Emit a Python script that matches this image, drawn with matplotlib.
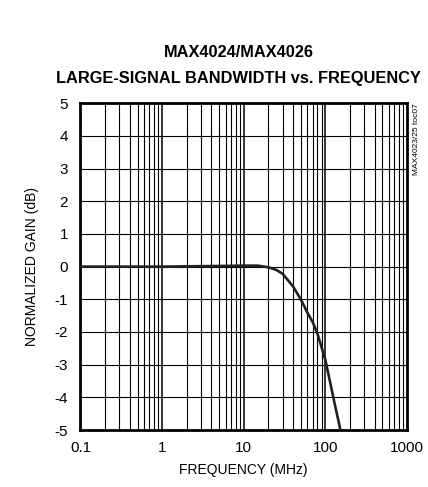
import matplotlib
matplotlib.use("Agg")
import matplotlib.pyplot as plt
import numpy as np

# Large-signal response
freq_mhz = [0.1, 1, 5, 10, 15, 20, 25, 30, 40, 50, 60, 70, 80, 100, 115, 130, 150, 160]
gain_db = [0.0, 0.0, 0.02, 0.03, 0.03, -0.02, -0.1, -0.22, -0.6, -1.0, -1.4, -1.7,
           -2.05, -2.86, -3.57, -4.2, -4.9, -5.3]

x_ticks = [0.1, 1, 10, 100, 1000]
x_tick_labels = ['0.1', '1', '10', '100', '1000']
y_ticks = [5, 4, 3, 2, 1, 0, -1, -2, -3, -4, -5]

font = ['Liberation Sans', 'DejaVu Sans']


def fit_width(txt, target_px):
    # shrink/grow a text until its rendered width matches target_px
    r = fig.canvas.get_renderer()
    w = txt.get_window_extent(r).width
    txt.set_fontsize(txt.get_fontsize() * target_px / w)


fig = plt.figure(figsize=(4.28, 4.87), dpi=100)
ax = fig.add_axes([0.188, 0.117, 0.763, 0.671])

ax.plot(freq_mhz, gain_db, color='#231f20', lw=1.9, solid_capstyle='butt', zorder=3)

ax.set_xscale('log')
ax.set_xlim(0.1, 1000)
ax.set_ylim(-5, 5)

# grid lines: every minor decade line plus each dB
for dec in [0.1, 1, 10, 100]:
    for k in range(2, 10):
        ax.axvline(dec * k, color='black', lw=0.8, zorder=1)
for dec in [1, 10, 100]:
    ax.axvline(dec, color='black', lw=1.1, zorder=1)
for y in range(-4, 5):
    ax.axhline(y, color='black', lw=0.8, zorder=1)

for s in ax.spines.values():
    s.set_linewidth(2.0)

ax.set_xticks(x_ticks)
ax.set_xticklabels(x_tick_labels)
ax.set_yticks(y_ticks)
ax.set_yticklabels([str(v) for v in y_ticks])
ax.minorticks_off()
ax.tick_params(axis='x', length=0, pad=8, labelsize=11)
ax.tick_params(axis='y', length=0, pad=9, labelsize=11)
for lbl in ax.get_xticklabels() + ax.get_yticklabels():
    lbl.set_family(font)

ax.set_xlabel('FREQUENCY (MHz)', family=font, fontsize=10, labelpad=6)
ax.set_ylabel('NORMALIZED GAIN (dB)', family=font, fontsize=10, labelpad=11)

t1 = fig.text(0.558, 0.892, 'MAX4024/MAX4026', ha='center', va='center',
              family=font, fontweight='bold', fontsize=13)
t2 = fig.text(0.558, 0.838, 'LARGE-SIGNAL BANDWIDTH vs. FREQUENCY', ha='center', va='center',
              family=font, fontweight='bold', fontsize=13)
fig.text(0.974, 0.787, 'MAX4023/25 toc07', rotation=90, ha='center', va='top',
         family=font, fontsize=6)

fit_width(t2, 364)
t1.set_fontsize(t2.get_fontsize())

fig.savefig('out.png', dpi=100)
